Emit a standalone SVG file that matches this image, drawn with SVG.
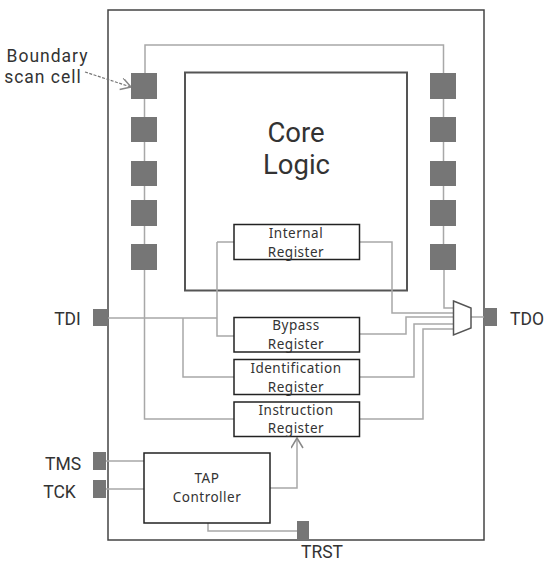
<svg xmlns="http://www.w3.org/2000/svg" width="546" height="563" viewBox="0 0 546 563">
<style>
text{font-family:"Noto Sans","Open Sans","DejaVu Sans",sans-serif;fill:#333;text-anchor:middle}
.lab{font-family:Roboto,"Noto Sans",sans-serif;font-size:17.5px}
.core{font-family:Roboto,"Noto Sans",sans-serif;font-size:27.5px}
.reg{font-size:13.5px;letter-spacing:.5px}
.box{fill:#fff;stroke:#222;stroke-width:1.5}
.cell{fill:#767676}
.wire{fill:none;stroke:#a8a8a8;stroke-width:1.5}
</style>
<defs>
<marker id="open" markerWidth="14" markerHeight="14" refX="11" refY="6" orient="auto" markerUnits="userSpaceOnUse"><path d="M1 0L11 6L1 12" fill="none" stroke="#888" stroke-width="1.5"/></marker>
</defs>
<g id="chip"><rect x="108" y="10" width="376" height="530" fill="#fff" stroke="#444" stroke-width="1.5"/></g>
<g id="core"><rect x="185" y="72.500" width="222" height="218" fill="#fff" stroke="#555" stroke-width="2"/><text class="core" x="296" y="142">Core</text><text class="core" x="296.500" y="174">Logic</text></g>
<g id="connectors">
<path class="wire" d="M145 73V45H443.500V73M144.500 98V419H234M443.500 98V265M444 270V308H453"/>
<path class="wire" d="M108 318H217M183 318V377H234M217 242V336H234M217 242H234"/>
<path class="wire" d="M360 242H392V313H453M360 334H406V317H453M360 377H414V324H453M360 419H423V329H453M471 317H484"/>
<path class="wire" d="M106 461H144M106 489H144M208 523V531H297"/>
<path class="wire" d="M270 488H297V438" marker-end="url(#open)"/>
<path d="M85 72L131 87" fill="none" stroke="#777" stroke-width="1.2" stroke-dasharray="3 1.500" marker-end="url(#open)"/>
</g>
<g id="cells-left"><rect class="cell" x="131" y="73" width="26" height="26"/><rect class="cell" x="131" y="117" width="26" height="25"/><rect class="cell" x="131" y="161" width="26" height="25"/><rect class="cell" x="131" y="200" width="26" height="26"/><rect class="cell" x="131" y="244" width="26" height="26"/></g>
<g id="cells-right"><rect class="cell" x="430" y="73" width="26" height="26"/><rect class="cell" x="430" y="117" width="26" height="25"/><rect class="cell" x="430" y="161" width="26" height="25"/><rect class="cell" x="430" y="200" width="26" height="26"/><rect class="cell" x="430" y="244" width="26" height="26"/></g>
<g id="internal-register"><rect class="box" x="234" y="224.500" width="125.500" height="35"/><text class="reg" x="296" y="238">Internal</text><text class="reg" x="296" y="257">Register</text></g>
<g id="bypass-register"><rect class="box" x="234" y="317.500" width="125.500" height="34.500"/><text class="reg" x="296" y="330">Bypass</text><text class="reg" x="296" y="349">Register</text></g>
<g id="identification-register"><rect class="box" x="234" y="359.500" width="125.500" height="35"/><text class="reg" x="296" y="373">Identification</text><text class="reg" x="296" y="392">Register</text></g>
<g id="instruction-register"><rect class="box" x="234" y="402" width="125.500" height="34.500"/><text class="reg" x="296" y="415">Instruction</text><text class="reg" x="296" y="433">Register</text></g>
<g id="tap-controller"><rect class="box" x="144" y="453" width="126" height="70"/><text class="reg" x="207" y="483">TAP</text><text class="reg" x="207" y="502">Controller</text></g>
<g id="mux"><path d="M453.500 301L471 308V328L453.500 335Z" fill="#fff" stroke="#555" stroke-width="1.500"/></g>
<g id="tdi"><rect class="cell" x="93" y="309" width="15" height="17"/><text class="lab" x="67.500" y="325">TDI</text></g>
<g id="tdo"><rect class="cell" x="484" y="308" width="13" height="18"/><text class="lab" x="527" y="325">TDO</text></g>
<g id="tms"><rect class="cell" x="93" y="452" width="13" height="18"/><text class="lab" x="63" y="470">TMS</text></g>
<g id="tck"><rect class="cell" x="93" y="480" width="13" height="18"/><text class="lab" x="59.500" y="498">TCK</text></g>
<g id="trst"><rect class="cell" x="297" y="521" width="12" height="19"/><text class="lab" x="322" y="558">TRST</text></g>
<g id="boundary-label"><text class="lab" x="47.500" y="62" letter-spacing="1">Boundary</text><text class="lab" x="43" y="83" letter-spacing="1">scan cell</text></g>
</svg>
